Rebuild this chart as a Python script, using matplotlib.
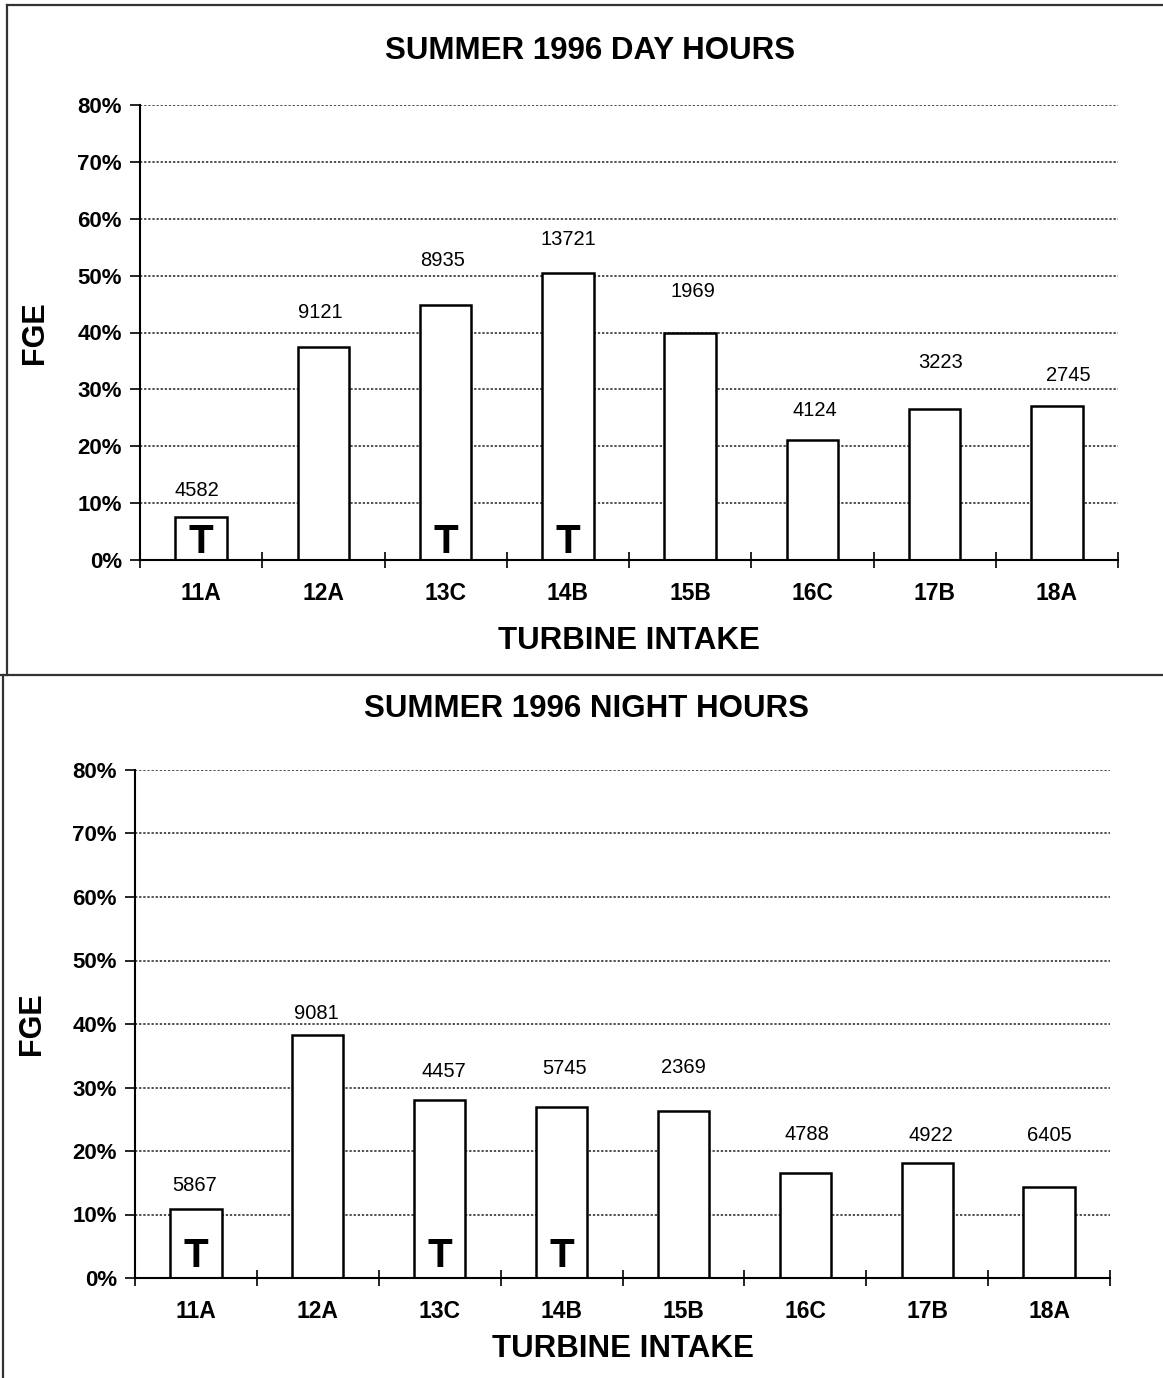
import numpy as np
import matplotlib.pyplot as plt
from matplotlib.lines import Line2D

plt.rcParams["font.family"] = ["Liberation Sans", "DejaVu Sans"]

# turbine intake units, FGE per unit and sample counts
intakes = ["11A", "12A", "13C", "14B", "15B", "16C", "17B", "18A"]
day_fge = [7.5, 37.4, 44.8, 50.5, 39.9, 21.1, 26.5, 27.1]
day_counts = [4582, 9121, 8935, 13721, 1969, 4124, 3223, 2745]
night_fge = [10.9, 38.3, 28.0, 26.9, 26.3, 16.5, 18.1, 14.3]
night_counts = [5867, 9081, 4457, 5745, 2369, 4788, 4922, 6405]
# units with a "T" marker
t_units = ["11A", "13C", "14B"]

# label placement (points) for the sample counts
day_offsets = [(-3, 19), (-2, 25), (-2, 32), (0, 24), (2, 30), (2, 21), (4, 34), (8, 22)]
night_offsets = [(-1, 17), (-1, 15), (3, 21), (2, 28), (0, 31), (1, 28), (3, 20), (0, 37)]

W, H = 1163, 1378
fig = plt.figure(figsize=(W / 100, H / 100), dpi=100)


def px_rect(left, right, top, bottom):
    return [left / W, 1 - bottom / H, (right - left) / W, (bottom - top) / H]


def draw_panel(ax, values, counts, offsets, t_pad):
    x = np.arange(len(intakes))
    ax.bar(x, values, width=0.42, facecolor="white", edgecolor="black",
           linewidth=1.8, zorder=3)
    ax.set_xlim(-0.5, len(intakes) - 0.5)
    ax.set_ylim(0, 80)
    ax.set_yticks(np.arange(0, 81, 10))
    ax.set_yticklabels([f"{v}%" for v in range(0, 81, 10)],
                       fontsize=16, fontweight="bold")
    ax.set_xticks(np.arange(-0.5, len(intakes)), minor=False)
    ax.set_xticklabels([])
    ax.set_xticks(x, minor=True)
    ax.set_xticklabels(intakes, minor=True, fontsize=16.5, fontweight="bold")
    ax.tick_params(axis="x", which="major", direction="inout", length=12,
                   width=1.2)
    ax.tick_params(axis="x", which="minor", length=0, pad=16)
    ax.tick_params(axis="y", direction="out", length=7, width=1.2, pad=6)
    ax.grid(axis="y", linestyle=(0, (1.5, 1.2)), color="#222222",
            linewidth=1.1, zorder=0)
    for s in ["top", "right"]:
        ax.spines[s].set_visible(False)
    for s in ["left", "bottom"]:
        ax.spines[s].set_linewidth(1.5)
        ax.spines[s].set_zorder(4)

    for xi, v, c, (dx, dy) in zip(x, values, counts, offsets):
        ax.annotate(str(c), xy=(xi, v), xytext=(dx, dy),
                    textcoords="offset points", ha="center", va="center",
                    fontsize=14.5)
    for name in t_units:
        xi = intakes.index(name)
        ax.annotate("T", xy=(xi, 0), xytext=(0, t_pad),
                    textcoords="offset points", ha="center", va="center",
                    fontsize=29, fontweight="bold", zorder=5)

    ax.set_xlabel("TURBINE INTAKE", fontsize=22.5, fontweight="bold")
    ax.set_ylabel("FGE", fontsize=22, fontweight="bold")


# day hours
ax1 = fig.add_axes(px_rect(140, 1118, 105, 560))
draw_panel(ax1, day_fge, day_counts, day_offsets, 13)
ax1.yaxis.set_label_coords(-0.092, 0.5)
ax1.xaxis.set_label_coords(0.5, -0.145)
fig.text(590 / W, 1 - 51 / H, "SUMMER 1996 DAY HOURS", ha="center",
         va="center", fontsize=22.5, fontweight="bold")

# night hours
ax2 = fig.add_axes(px_rect(135, 1110, 770, 1278))
draw_panel(ax2, night_fge, night_counts, night_offsets, 16)
ax2.yaxis.set_label_coords(-0.090, 0.5)
ax2.xaxis.set_label_coords(0.5, -0.110)
fig.text(587 / W, 1 - 709 / H, "SUMMER 1996 NIGHT HOURS", ha="center",
         va="center", fontsize=22.5, fontweight="bold")

# panel frames
frame = dict(color="#333333", linewidth=1.6, transform=fig.transFigure)
fig.add_artist(Line2D([7 / W, 1], [1 - 5 / H, 1 - 5 / H], **frame))
fig.add_artist(Line2D([7 / W, 7 / W], [1 - 5 / H, 1 - 675 / H], **frame))
fig.add_artist(Line2D([0, 1], [1 - 675 / H, 1 - 675 / H], **frame))
fig.add_artist(Line2D([3 / W, 3 / W], [1 - 675 / H, 0], **frame))

fig.savefig("out.png", dpi=100)
